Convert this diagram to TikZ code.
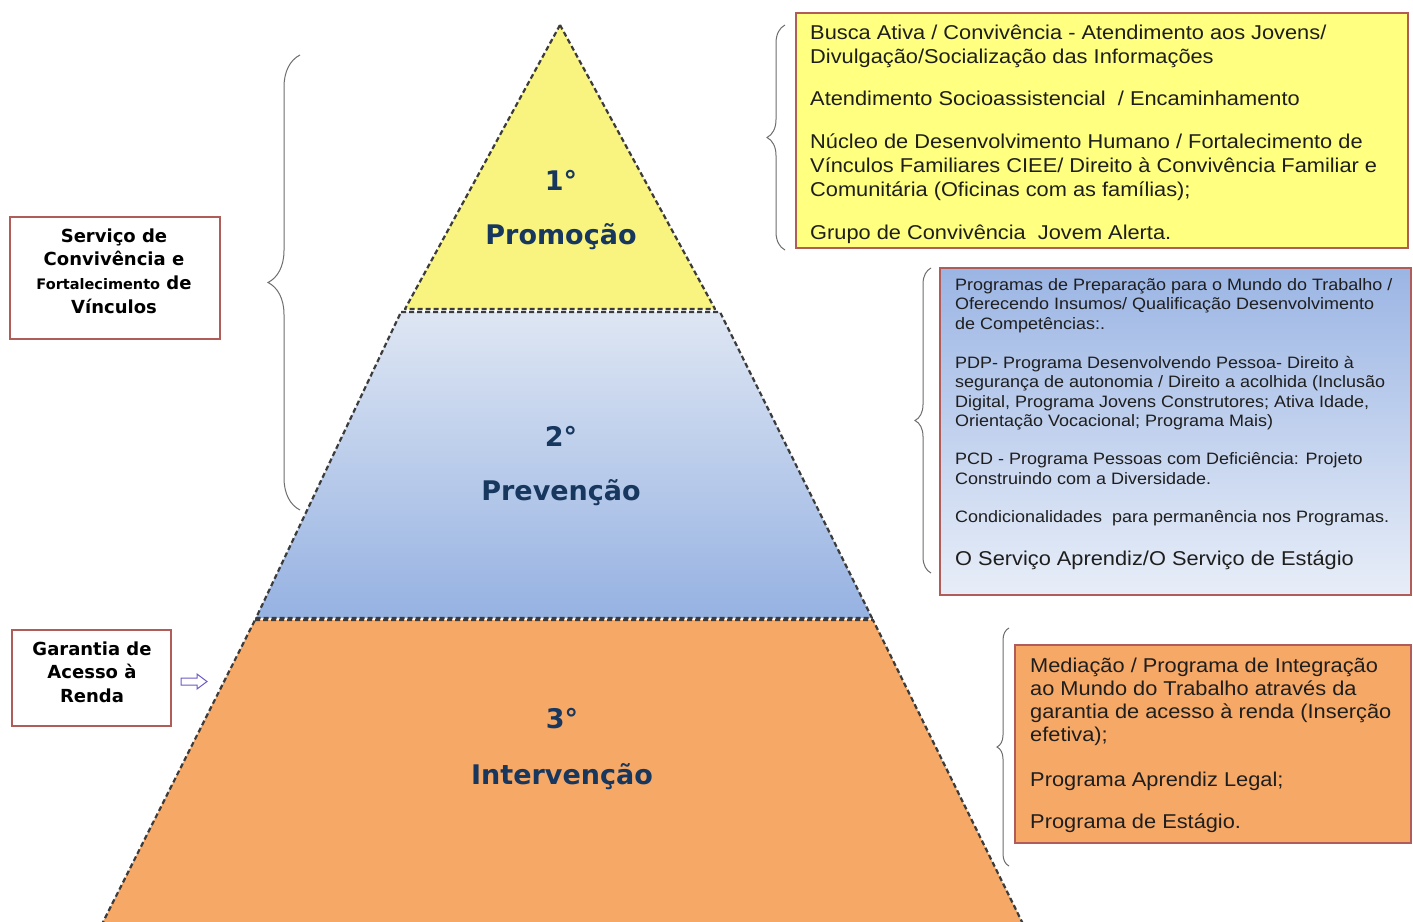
\documentclass[tikz,border=0pt]{standalone}
\usepackage{fontspec}
\setmainfont{Liberation Sans}
\newfontfamily\boxfont[FakeStretch=1.09]{Liberation Sans}
\newfontfamily\vfont{DejaVu Sans}
\usetikzlibrary{decorations.pathreplacing}
\definecolor{pyryellow}{RGB}{249,244,128}
\definecolor{boxyellow}{RGB}{255,255,128}
\definecolor{ltop}{RGB}{222,230,243}
\definecolor{lbot}{RGB}{150,178,226}
\definecolor{btop}{RGB}{155,181,228}
\definecolor{bbot}{RGB}{232,238,248}
\definecolor{pyrorange}{RGB}{246,168,102}
\definecolor{boxred}{RGB}{176,92,88}
\definecolor{pyrblue}{RGB}{23,55,94}
\definecolor{bracegray}{RGB}{110,110,110}
\definecolor{dashgray}{RGB}{60,60,60}
\definecolor{arrowblue}{RGB}{110,90,200}
\definecolor{txt}{RGB}{30,30,30}
\tikzset{
  layer/.style={draw=dashgray, line width=2.2pt, dash pattern=on 5pt off 3pt, line join=round},
  rbox/.style={draw=boxred, line width=1.2pt},
  brc/.style={decorate, decoration={brace, amplitude=#1}, draw=bracegray, line width=1pt},
  ptext/.style={font=\vfont\bfseries\fontsize{27}{30}\selectfont, text=pyrblue, anchor=base, inner sep=0},
  btext/.style={anchor=base west, inner sep=0, text=txt},
  ltext/.style={align=center, inner sep=0, text=black, font=\vfont\bfseries\fontsize{18}{23.7}\selectfont}
}
\begin{document}
\begin{tikzpicture}[x=1pt,y=1pt]
\useasboundingbox (0,0) rectangle (1413,-921);
\fill[white] (0,0) rectangle (1413,-921);
\clip (0,0) rectangle (1413,-921);

% pyramid
\fill[pyryellow] (560,-25) -- (715,-309) -- (405,-309) -- cycle;
\draw[layer] (560,-25) -- (715,-309) -- (405,-309) -- cycle;
\shade[top color=ltop, bottom color=lbot] (401,-312) -- (720,-312) -- (872,-618) -- (256,-618) -- cycle;
\draw[layer] (401,-312) -- (720,-312) -- (872,-618) -- (256,-618) -- cycle;
\fill[pyrorange] (255,-620) -- (873,-620) -- (1026,-930) -- (99,-930) -- cycle;
\draw[layer] (255,-620) -- (873,-620) -- (1026,-930) -- (99,-930) -- cycle;

\node[ptext] (n1) at (561,-190) {1°};
\node[ptext] (p1) at (561,-244) {Promoção};
\node[ptext] (n2) at (561,-446) {2°};
\node[ptext] (p2) at (561,-500) {Prevenção};
\node[ptext] (n3) at (562,-728) {3°};
\node[ptext] (p3) at (562,-784) {Intervenção};

% braces
\draw[brc=32] (300,-510) -- (300,-55);
\draw[brc=18] (785,-250) -- (785,-25);
\draw[brc=16] (931,-573) -- (931,-268);
\draw[brc=12] (1009,-866) -- (1009,-628);

% right boxes
\draw[rbox, fill=boxyellow] (796,-13) rectangle (1408,-248);
\node[btext] (t1) at (810,-39) {\begin{minipage}[t]{595pt}\raggedright\boxfont\fontsize{20}{24}\selectfont
Busca Ativa / Convivência - Atendimento aos Jovens/\\
Divulgação/Socialização das Informações\\[18pt]
Atendimento Socioassistencial~ / Encaminhamento\\[19pt]
Núcleo de Desenvolvimento Humano / Fortalecimento de\\
Vínculos Familiares CIEE/ Direito à Convivência Familiar e\\
Comunitária (Oficinas com as famílias);\\[19pt]
Grupo de Convivência~ Jovem Alerta.\end{minipage}};

\shade[top color=btop, bottom color=bbot] (940,-268) rectangle (1411,-595);
\draw[rbox] (940,-268) rectangle (1411,-595);
\node[btext] (t2) at (955,-290) {\begin{minipage}[t]{455pt}\raggedright\boxfont\fontsize{16.5}{19.5}\selectfont
Programas de Preparação para o Mundo do Trabalho /\\
Oferecendo Insumos/ Qualificação Desenvolvimento\\
de Competências:.\\[19.5pt]
PDP- Programa Desenvolvendo Pessoa- Direito à\\
segurança de autonomia / Direito a acolhida (Inclusão\\
Digital, Programa Jovens Construtores; Ativa Idade,\\
Orientação Vocacional; Programa Mais)\\[18.5pt]
PCD - Programa Pessoas com Deficiência: Projeto\\
Construindo com a Diversidade.\\[18.5pt]
Condicionalidades~ para permanência nos Programas.\end{minipage}};
\node[btext, font=\boxfont\fontsize{20}{24}\selectfont] (t2b) at (955,-565) {O Serviço Aprendiz/O Serviço de Estágio};

\draw[rbox, fill=pyrorange] (1015,-645) rectangle (1411,-843);
\node[btext] (t3) at (1030,-672) {\begin{minipage}[t]{380pt}\raggedright\boxfont\fontsize{20}{23.3}\selectfont
Mediação / Programa de Integração\\
ao Mundo do Trabalho através da\\
garantia de acesso à renda (Inserção\\
efetiva);\\[21.7pt]
Programa Aprendiz Legal;\\[18.7pt]
Programa de Estágio.\end{minipage}};

% left boxes
\draw[rbox, fill=white] (10,-217) rectangle (220,-339);
\node[ltext] (l1) at (114,-271) {Serviço de\\Convivência e\\{\fontsize{14.5}{23.7}\selectfont Fortalecimento} de\\Vínculos};
\draw[rbox, fill=white] (12,-630) rectangle (171,-726);
\node[ltext] (l2) at (92,-672) {Garantia de\\Acesso à\\Renda};

% arrow
\draw[arrowblue, line width=1pt, line join=miter] (181,-678) -- (197,-678) -- (197,-674) -- (207,-681.5) -- (197,-689) -- (197,-685) -- (181,-685) -- cycle;
\end{tikzpicture}
\end{document}
